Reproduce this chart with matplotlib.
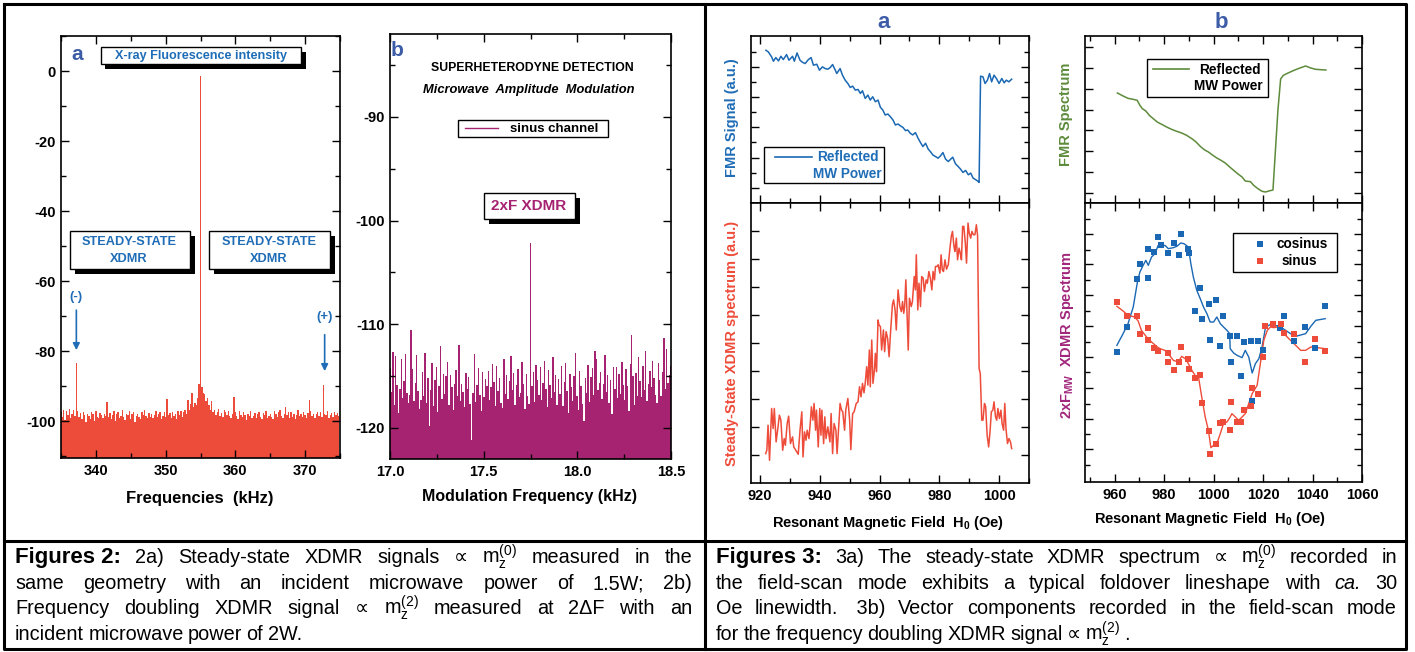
import numpy as np
import matplotlib
matplotlib.use('Agg')
import matplotlib.pyplot as plt
from matplotlib.patches import Rectangle
from matplotlib.lines import Line2D
from matplotlib.ticker import MultipleLocator, FixedLocator, FormatStrFormatter
from matplotlib import font_manager

W, H = 1415, 652

names = {f.name for f in font_manager.fontManager.ttflist}
CAP_FONT = 'Liberation Sans Narrow' if 'Liberation Sans Narrow' in names else 'Liberation Sans'

plt.rcParams['font.family'] = ['Liberation Sans', 'DejaVu Sans']
plt.rcParams['font.weight'] = 'bold'

# ---------------------------------------------------------------------------
# Fig 2a : spectrum around 355 kHz (dB), 0.2 kHz bins starting at 335 kHz
# ---------------------------------------------------------------------------
freq_a_start, freq_a_step = 335.0, 0.2
amp_a = [
    -97.5, -98.8, -96.9, -99.6, -97.2,
    -98.1, -96.6, -99.0, -97.8, -96.8,
    -98.4, -83.5, -97.0, -98.9, -97.6,
    -99.3, -97.4, -98.2, -100.1, -97.9,
    -98.6, -99.5, -97.3, -98.0, -99.8,
    -97.1, -98.7, -99.2, -97.6, -98.3,
    -99.0, -97.8, -98.5, -94.6, -98.8,
    -97.7, -99.4, -98.1, -97.2, -99.9,
    -98.0, -97.5, -99.1, -98.4, -96.9,
    -98.8, -99.6, -97.9, -98.2, -97.0,
    -99.3, -98.0, -97.4, -100.2, -98.6,
    -97.8, -98.9, -99.5, -97.3, -98.1,
    -96.8, -98.4, -99.0, -97.6, -98.9,
    -97.9, -99.2, -98.3, -97.1, -98.7,
    -98.0, -97.5, -99.4, -98.6, -97.3,
    -98.9, -93.6, -98.2, -97.7, -99.1,
    -97.4, -98.6, -97.9, -99.3, -97.2,
    -98.1, -97.0, -98.8, -97.5, -96.9,
    -97.8, -93.9, -96.8, -95.2, -92.0,
    -96.0, -94.8, -95.5, -93.4, -89.5,
    -1.5, -90.2, -91.8, -92.3, -94.1,
    -93.3, -95.4, -96.8, -94.2, -97.5,
    -96.9, -98.2, -97.4, -96.5, -98.6,
    -97.7, -98.9, -96.8, -97.4, -98.1,
    -97.2, -98.5, -99.0, -97.9, -93.2,
    -97.3, -98.6, -99.4, -97.0, -98.2,
    -98.9, -97.5, -98.1, -99.6, -97.8,
    -98.4, -97.1, -99.0, -98.6, -97.7,
    -99.2, -98.0, -97.4, -98.8, -99.5,
    -97.6, -98.3, -97.0, -99.1, -98.5,
    -97.9, -98.7, -99.3, -97.2, -98.0,
    -98.8, -97.4, -96.9, -98.4, -99.2,
    -98.0, -95.9, -98.3, -97.5, -99.0,
    -97.3, -98.7, -97.9, -99.4, -98.1,
    -96.7, -98.5, -97.8, -98.9, -97.4,
    -98.2, -99.0, -97.6, -94.0, -97.1,
    -98.5, -97.8, -99.1, -98.0, -97.3,
    -98.6, -97.5, -98.8, -89.6, -97.9,
    -98.3, -97.0, -99.2, -98.1, -97.6,
    -98.9, -97.4, -98.2, -97.7, -98.5,
]

# ---------------------------------------------------------------------------
# Fig 2b : modulation spectrum (dB), 0.0075 kHz bins starting at 17.0 kHz
# ---------------------------------------------------------------------------
freq_b_start, freq_b_step = 17.0, 0.0075
amp_b = [
    -114.2, -116.5, -112.7, -117.8, -113.1, -115.9, -118.6, -116.2, -113.4, -117.1,
    -115.5, -112.9, -116.6, -117.6, -116.8, -110.6, -114.3, -117.4, -115.7, -113.0,
    -116.4, -118.2, -117.3, -114.6, -116.9, -112.8, -117.6, -115.2, -119.8, -116.3,
    -113.7, -117.9, -115.4, -114.1, -118.5, -116.0, -112.1, -117.2, -114.8, -116.7,
    -115.0, -113.6, -117.8, -114.9, -116.1, -118.3, -115.8, -114.4, -116.9, -112.0,
    -117.4, -115.8, -116.5, -118.0, -114.7, -116.2, -115.1, -117.7, -121.2, -116.6,
    -112.9, -117.5, -115.9, -114.2, -116.8, -118.4, -114.6, -117.0, -115.3, -116.0,
    -114.5, -117.3, -116.1, -113.8, -115.6, -117.9, -114.0, -116.4, -115.2, -117.6,
    -118.1, -113.4, -116.7, -114.9, -117.2, -115.5, -113.1, -116.3, -114.7, -117.8,
    -115.9, -114.3, -117.0, -116.6, -113.6, -115.8, -118.2, -114.8, -116.9, -117.7,
    -102.2, -116.0, -114.6, -117.5, -113.9, -115.4, -116.8, -114.1, -117.3, -115.7,
    -113.5, -116.2, -118.0, -114.4, -115.9, -117.1, -113.2, -116.5, -114.9, -117.8,
    -115.3, -116.7, -114.0, -117.9, -115.6, -113.7, -116.4, -118.6, -114.8, -116.1,
    -117.4, -115.0, -112.8, -116.9, -118.3, -114.5, -116.0, -117.7, -119.3, -115.2,
    -116.6, -113.9, -117.5, -115.1, -114.2, -116.8, -112.6, -113.4, -116.3, -115.7,
    -114.6, -117.2, -115.8, -113.0, -116.5, -114.9, -117.6, -115.4, -118.7, -114.1,
    -116.2, -114.1, -117.1, -114.8, -116.7, -113.6, -115.9, -117.3, -114.3, -116.0,
    -118.4, -113.8, -111.0, -115.0, -117.8, -114.7, -116.9, -113.2, -115.5, -117.0,
    -114.0, -116.3, -112.6, -117.4, -115.8, -114.5, -116.1, -113.5, -115.2, -116.8,
    -117.6, -113.7, -115.4, -116.9, -114.6, -111.3, -116.2, -112.4, -115.7, -114.9,
    -114.0,
]

# ---------------------------------------------------------------------------
# Fig 3a : FMR signal (reflected MW power) and steady-state XDMR, field scan
# ---------------------------------------------------------------------------
fmr_a_field = [
    922.0, 922.8, 923.9, 924.5, 925.3, 926.2, 927.0, 927.8, 928.9, 929.7,
    930.9, 931.5, 932.4, 933.4, 934.2, 935.1, 936.2, 937.1, 937.9, 939.0,
    939.9, 940.9, 941.8, 942.7, 943.5, 944.3, 945.2, 945.7, 946.8, 947.6,
    948.5, 949.4, 950.2, 951.0, 951.9, 952.8, 953.6, 954.3, 955.2, 956.1,
    956.9, 957.7, 958.6, 959.5, 960.3, 961.1, 961.9, 962.8, 963.6, 964.5,
    965.3, 966.2, 967.0, 967.8, 968.7, 969.4, 970.3, 971.1, 972.0, 972.9,
    973.7, 974.5, 975.4, 976.3, 977.0, 977.8, 978.7, 979.6, 980.4, 981.2,
    982.1, 983.0, 983.8, 984.5, 985.4, 986.3, 987.1, 987.9, 988.8, 989.7,
    990.5, 991.3, 992.2, 993.0, 993.3, 993.8, 994.6, 995.3, 996.1, 996.8,
    997.5, 998.3, 999.1, 1000.0, 1000.9, 1001.7, 1002.4, 1003.3, 1004.2,
]
fmr_a_signal = [
    4.60, 4.55, 4.40, 4.27, 4.38, 4.28, 4.42, 4.32, 4.47, 4.30,
    4.42, 4.27, 4.52, 4.30, 4.24, 4.20, 4.32, 4.38, 4.15, 4.18,
    4.00, 4.10, 4.05, 4.03, 4.08, 4.17, 4.00, 3.90, 4.05, 3.85,
    3.70, 3.60, 3.48, 3.52, 3.40, 3.42, 3.30, 3.38, 3.15, 3.25,
    3.10, 3.20, 3.05, 3.10, 2.88, 2.80, 2.65, 2.68, 2.60, 2.50,
    2.35, 2.38, 2.32, 2.28, 2.18, 2.20, 2.10, 2.05, 2.12, 1.95,
    1.82, 1.70, 1.80, 1.62, 1.55, 1.45, 1.40, 1.35, 1.42, 1.52,
    1.32, 1.25, 1.32, 1.38, 1.18, 1.10, 1.02, 0.92, 0.98, 0.85,
    0.90, 0.75, 0.70, 0.65, 0.62, 3.82, 3.80, 3.60, 3.70, 3.90,
    3.65, 3.85, 3.75, 3.60, 3.75, 3.62, 3.70, 3.65, 3.73,
]

xdmr_field = [
    921.9, 922.3, 922.7, 923.2, 923.9, 924.4, 924.8, 925.4, 925.9, 926.5,
    927.0, 927.6, 928.1, 928.5, 929.1, 929.6, 930.2, 930.9, 931.3, 932.0,
    932.8, 933.4, 934.0, 934.4, 934.9, 935.4, 935.8, 936.4, 936.9, 937.2,
    937.7, 938.1, 938.6, 938.9, 939.5, 940.0, 940.4, 940.7, 941.3, 941.7,
    942.1, 942.7, 943.4, 943.8, 944.3, 944.8, 945.4, 945.8, 946.4, 946.8,
    947.3, 947.7, 948.3, 948.7, 949.4, 950.0, 950.4, 951.0, 951.5, 952.2,
    952.8, 953.3, 953.8, 954.3, 954.8, 955.2, 955.7, 956.1, 956.6, 956.9,
    957.4, 957.8, 958.3, 958.6, 959.0, 959.5, 959.8, 960.3, 960.7, 961.3,
    961.7, 962.2, 962.7, 963.2, 963.7, 964.3, 964.7, 965.2, 965.6, 966.2,
    966.8, 967.3, 967.7, 968.1, 968.4, 968.8, 969.2, 969.6, 970.0, 970.6,
    971.0, 971.6, 972.0, 972.3, 972.8, 973.2, 973.7, 974.1, 974.6, 975.0,
    975.6, 976.0, 976.5, 977.0, 977.5, 977.9, 978.4, 978.7, 979.2, 979.6,
    980.2, 980.6, 981.0, 981.4, 981.9, 982.4, 983.0, 983.5, 984.0, 984.4,
    984.9, 985.2, 985.7, 986.1, 986.6, 987.0, 987.4, 987.8, 988.2, 988.7,
    989.1, 989.6, 990.0, 990.5, 990.9, 991.4, 991.9, 992.4, 992.8, 993.3,
    993.7, 994.2, 994.6, 995.1, 995.5, 996.0, 996.5, 997.0, 997.4, 997.9,
    998.3, 998.8, 999.2, 999.6, 1000.1, 1000.6, 1001.0, 1001.5, 1001.9, 1002.3,
    1002.8, 1003.3, 1003.8, 1004.2,
]
xdmr_signal = [
    0.88, 0.98, 1.73, 0.68, 2.23, 1.63, 2.23, 1.23, 1.58, 2.03,
    1.88, 0.98, 1.33, 1.13, 1.78, 2.00, 1.18, 1.38, 1.08, 0.98,
    0.86, 1.58, 2.13, 0.78, 1.53, 1.28, 1.58, 1.33, 1.88, 2.28,
    1.88, 2.38, 1.58, 2.18, 1.08, 2.23, 1.43, 2.18, 1.18, 1.98,
    1.33, 1.68, 1.23, 2.08, 0.88, 1.78, 1.58, 0.88, 1.78, 2.38,
    2.18, 2.13, 1.58, 2.18, 2.53, 1.88, 1.00, 2.08, 2.13, 2.38,
    2.43, 2.88, 2.58, 2.98, 2.70, 2.98, 3.48, 2.93, 3.98, 2.88,
    4.28, 2.98, 3.38, 3.88, 3.33, 4.88, 4.73, 4.68, 3.98, 4.58,
    3.93, 4.53, 4.33, 3.78, 4.53, 5.33, 5.48, 5.18, 4.58, 5.78,
    5.28, 5.13, 5.43, 5.08, 5.28, 6.08, 5.08, 3.98, 5.53, 5.28,
    5.43, 6.18, 5.78, 6.83, 5.18, 5.98, 5.28, 6.18, 6.13, 5.73,
    6.08, 5.98, 6.33, 6.13, 5.78, 6.33, 6.08, 6.48, 6.48, 6.53,
    6.28, 6.83, 6.38, 6.33, 6.68, 6.40, 6.53, 6.98, 7.38, 7.53,
    7.08, 6.93, 7.33, 6.68, 7.03, 6.88, 6.68, 7.68, 7.68, 7.18,
    6.58, 7.78, 7.48, 7.33, 7.53, 7.43, 7.43, 7.73, 7.40, 3.43,
    3.28, 1.88, 1.88, 2.38, 2.28, 1.43, 1.08, 1.58, 2.13, 2.18,
    2.43, 1.98, 1.88, 2.23, 1.93, 2.18, 1.78, 1.58, 2.38, 1.63,
    1.18, 1.33, 1.23, 1.03,
]

# ---------------------------------------------------------------------------
# Fig 3b : FMR spectrum and 2xF_MW XDMR vector components
# ---------------------------------------------------------------------------
fmr_b_field = [
    961.1, 963.4, 965.4, 967.5, 969.1, 970.2, 971.2, 972.6, 974.0, 975.6,
    977.2, 979.0, 981.0, 983.0, 985.1, 987.1, 989.1, 991.2, 992.9, 994.6,
    996.2, 997.9, 999.7, 1001.3, 1003.0, 1004.7, 1006.5, 1008.1, 1009.7, 1011.5,
    1012.8, 1014.9, 1016.2, 1017.9, 1019.6, 1021.0, 1022.3, 1024.0, 1025.0, 1026.0,
    1027.1, 1028.2, 1030.1, 1032.5, 1034.9, 1037.2, 1039.3, 1041.3, 1043.3, 1045.4,
]
fmr_b_signal = [
    3.30, 3.21, 3.14, 3.11, 3.08, 2.93, 2.83, 2.76, 2.63, 2.53,
    2.43, 2.36, 2.28, 2.21, 2.15, 2.10, 2.03, 1.93, 1.83, 1.70,
    1.60, 1.53, 1.43, 1.35, 1.28, 1.20, 1.08, 0.98, 0.88, 0.78,
    0.66, 0.64, 0.53, 0.43, 0.35, 0.33, 0.36, 0.39, 1.58, 2.78,
    3.72, 3.83, 3.90, 3.98, 4.05, 4.11, 4.05, 4.01, 4.00, 3.99,
]

cos_pts_field = [
    960.9, 965.1, 969.2, 970.3, 973.3, 973.4, 976.1, 977.5, 978.8, 981.4,
    984.1, 985.9, 987.0, 989.8, 989.9, 994.3, 992.5, 995.4, 998.3, 1001.1,
    1003.9, 998.5, 1002.7, 1006.9, 1006.6, 1009.6, 1011.2, 1012.2, 1015.1, 1015.4,
    1018.0, 1019.8, 1026.8, 1028.3, 1032.5, 1036.8, 1040.9, 1045.1,
]
cos_pts_value = [
    3.90, 4.65, 6.10, 6.53, 7.00, 6.13, 6.89, 7.35, 7.11, 6.87,
    7.17, 6.80, 7.43, 7.00, 6.88, 5.82, 5.13, 4.90, 5.35, 5.45,
    4.99, 4.26, 4.07, 3.59, 4.37, 4.38, 3.19, 4.21, 4.24, 2.43,
    4.24, 3.97, 4.63, 4.99, 4.23, 4.64, 4.01, 5.27,
]
sin_pts_field = [
    960.9, 965.1, 969.2, 970.3, 973.3, 973.4, 976.1, 977.5, 981.4, 981.7,
    984.1, 985.9, 987.0, 989.8, 989.9, 992.5, 994.3, 995.4, 998.2, 998.5,
    1001.1, 1003.9, 1002.7, 1006.6, 1006.9, 1009.6, 1011.2, 1012.2, 1015.1, 1015.4,
    1018.0, 1019.8, 1020.8, 1024.0, 1027.1, 1028.3, 1032.5, 1036.8, 1040.9, 1045.1,
]
sin_pts_value = [
    5.40, 4.97, 4.99, 4.45, 4.62, 4.27, 4.02, 3.93, 3.87, 3.59,
    3.35, 3.59, 4.06, 3.68, 3.38, 3.12, 3.20, 2.38, 1.53, 0.83,
    1.13, 1.79, 1.78, 1.56, 2.40, 1.79, 1.79, 2.17, 2.27, 2.82,
    2.65, 3.75, 4.67, 4.75, 4.75, 4.48, 4.45, 3.60, 4.29, 3.93,
]
cos_line_field = [
    960.9, 963.4, 965.4, 967.5, 969.2, 970.2, 971.5, 972.6, 973.6, 974.9,
    976.3, 977.6, 979.0, 980.3, 981.7, 983.7, 985.1, 986.7, 988.0, 989.8,
    990.8, 991.8, 993.2, 994.6, 995.9, 997.3, 998.6, 1000.0, 1001.3, 1002.7,
    1004.0, 1005.4, 1006.5, 1006.7, 1008.1, 1009.5, 1011.5, 1012.8, 1014.2, 1015.6,
    1016.9, 1018.3, 1019.6, 1021.0, 1022.3, 1023.7, 1025.0, 1027.1, 1029.1, 1031.1,
    1033.2, 1035.2, 1037.2, 1039.3, 1041.3, 1045.1,
]
cos_line_value = [
    4.10, 4.45, 4.75, 5.25, 6.00, 6.30, 6.50, 6.65, 6.50, 6.75,
    6.85, 7.10, 7.07, 7.10, 7.00, 7.03, 7.07, 7.17, 7.15, 7.05,
    6.55, 6.15, 5.75, 5.50, 5.25, 5.05, 4.80, 4.80, 4.95, 4.75,
    4.65, 4.55, 4.45, 4.00, 3.87, 3.80, 3.73, 3.95, 3.75, 3.27,
    3.55, 3.70, 4.05, 4.65, 4.70, 4.75, 4.70, 4.65, 4.55, 4.45,
    4.37, 4.41, 4.45, 4.67, 4.85, 4.90,
]
sin_line_field = [
    960.9, 963.4, 965.4, 968.1, 969.5, 970.8, 972.9, 974.9, 976.9, 978.3,
    980.3, 981.7, 983.7, 985.7, 987.1, 988.5, 989.8, 991.2, 992.5, 993.9,
    995.2, 996.6, 997.9, 998.9, 1000.0, 1001.3, 1002.7, 1004.0, 1005.4, 1006.7,
    1007.4, 1008.8, 1010.1, 1011.5, 1012.8, 1014.2, 1015.6, 1017.6, 1018.9, 1020.3,
    1021.7, 1023.0, 1024.4, 1025.7, 1027.1, 1028.4, 1031.1, 1033.2, 1035.2, 1037.2,
    1039.3, 1042.0, 1045.1,
]
sin_line_value = [
    5.27, 5.13, 5.00, 4.95, 4.83, 4.55, 4.35, 4.20, 4.07, 4.00,
    3.95, 3.85, 3.65, 3.60, 3.77, 3.70, 3.55, 3.35, 3.20, 3.15,
    2.55, 1.95, 1.55, 1.03, 1.10, 1.15, 1.45, 1.75, 1.80, 1.95,
    2.05, 1.95, 1.85, 1.95, 2.05, 2.35, 2.65, 2.90, 3.55, 4.25,
    4.55, 4.65, 4.63, 4.65, 4.60, 4.45, 4.25, 4.10, 3.95, 3.95,
    4.05, 4.03, 4.00,
]

# captions
cap2_lines = [
    ["Figures 2:", "2a)", "Steady-state", "XDMR", "signals", "\u221d", r"m$_\mathregular{z}^\mathregular{(0)}$",
     "measured", "in", "the"],
    ["same", "geometry", "with", "an", "incident", "microwave", "power", "of", "1.5W;", "2b)"],
    ["Frequency", "doubling", "XDMR", "signal", "\u221d", r"m$_\mathregular{z}^\mathregular{(2)}$", "measured",
     "at", "2\u0394F", "with", "an"],
    ["incident", "microwave", "power", "of", "2W."],
]
cap3_lines = [
    ["Figures 3:", "3a)", "The", "steady-state", "XDMR", "spectrum", "\u221d", r"m$_\mathregular{z}^\mathregular{(0)}$",
     "recorded", "in"],
    ["the", "field-scan", "mode", "exhibits", "a", "typical", "foldover", "lineshape", "with", "*ca.", "30"],
    ["Oe", "linewidth.", " 3b)", "Vector", "components", "recorded", "in", "the", "field-scan", "mode"],
    ["for", "the", "frequency", "doubling", "XDMR", "signal", "\u221d", r"m$_\mathregular{z}^\mathregular{(2)}$", "."],
]

# colours
LETTER_BLUE = '#3d5ca8'
BOX_BLUE = '#1f6db6'
RED = '#ee4c3a'
MAGENTA = '#a62372'
LINE_BLUE = '#1a68b3'
GREEN = '#5d8b3b'
LABEL_MAG = '#a1267b'


def px(x, y):
    return x / W, 1 - y / H


def add_rect(fig, x0, y0, x1, y1, **kw):
    fig.add_artist(Rectangle(px(x0, y1), (x1 - x0) / W, (y1 - y0) / H,
                             transform=fig.transFigure, **kw))


def shadow_box(fig, x0, y0, x1, y1, off=4.5):
    add_rect(fig, x0 + off, y0 + off, x1 + off, y1 + off, facecolor='black',
             edgecolor='none', zorder=4)
    add_rect(fig, x0, y0, x1, y1, facecolor='white', edgecolor='black', lw=1.0, zorder=5)


def plain_box(fig, x0, y0, x1, y1):
    add_rect(fig, x0, y0, x1, y1, facecolor='white', edgecolor='black', lw=1.0, zorder=5)


def ftext(fig, x, y, s, **kw):
    kw.setdefault('ha', 'center')
    kw.setdefault('va', 'center')
    kw.setdefault('zorder', 6)
    return fig.text(*px(x, y), s, **kw)


def fline(fig, xs, ys, **kw):
    fig.add_artist(Line2D([x / W for x in xs], [1 - y / H for y in ys],
                          transform=fig.transFigure, **kw))


def make_ax(fig, x0, y0, x1, y1):
    return fig.add_axes([x0 / W, 1 - y1 / H, (x1 - x0) / W, (y1 - y0) / H])


def style_ax(ax, size=10.5):
    ax.tick_params(which='both', direction='in', top=True, right=True, width=1.0,
                   labelsize=size, pad=4)
    ax.tick_params(which='major', length=6)
    ax.tick_params(which='minor', length=3.5)
    for s in ax.spines.values():
        s.set_linewidth(1.2)


fig = plt.figure(figsize=(W / 100, H / 100), dpi=100)

# ---------------- Fig 2a ----------------
ax = make_ax(fig, 61, 36, 340, 458)
freq_a = freq_a_start + freq_a_step * np.arange(len(amp_a))
amp_a_arr = np.array(amp_a)
base_a = -110.5
ax.bar(freq_a, amp_a_arr - base_a, bottom=base_a, width=freq_a_step, color=RED, linewidth=0)
ax.set_xlim(335, 375)
ax.set_ylim(base_a, 10)
ax.xaxis.set_major_locator(MultipleLocator(10))
ax.xaxis.set_minor_locator(MultipleLocator(5))
ax.yaxis.set_major_locator(FixedLocator([-100, -80, -60, -40, -20, 0]))
ax.yaxis.set_minor_locator(MultipleLocator(10))
ax.yaxis.set_major_formatter(FormatStrFormatter('%d'))
style_ax(ax)
ax.annotate('', xy=(337.2, -80.5), xytext=(337.2, -67.5),
            arrowprops=dict(arrowstyle='-|>', color=BOX_BLUE, lw=1.2, mutation_scale=10))
ax.annotate('', xy=(372.8, -86.5), xytext=(372.8, -74.5),
            arrowprops=dict(arrowstyle='-|>', color=BOX_BLUE, lw=1.2, mutation_scale=10))
ax.text(337.2, -64.5, '(-)', color=BOX_BLUE, ha='center', va='center', fontsize=9.5)
ax.text(372.8, -70.3, '(+)', color=BOX_BLUE, ha='center', va='center', fontsize=9.5)
ftext(fig, 200, 499, 'Frequencies  (kHz)', fontsize=12)
ftext(fig, 77, 55, 'a', color=LETTER_BLUE, fontsize=15)
shadow_box(fig, 101, 47, 301, 64)
ftext(fig, 201, 55.5, 'X-ray Fluorescence intensity', color=BOX_BLUE, fontsize=9.1)
shadow_box(fig, 70, 231, 190, 269)
ftext(fig, 129, 242, 'STEADY-STATE', color=BOX_BLUE, fontsize=9.2)
ftext(fig, 129, 259, 'XDMR', color=BOX_BLUE, fontsize=9.2)
shadow_box(fig, 209, 231, 330, 269)
ftext(fig, 269, 242, 'STEADY-STATE', color=BOX_BLUE, fontsize=9.2)
ftext(fig, 269, 259, 'XDMR', color=BOX_BLUE, fontsize=9.2)

# ---------------- Fig 2b ----------------
ax = make_ax(fig, 390, 34, 671, 459)
freq_b = freq_b_start + freq_b_step * np.arange(len(amp_b))
amp_b_arr = np.array(amp_b)
base_b = -123
ax.bar(freq_b, amp_b_arr - base_b, bottom=base_b, width=freq_b_step, color=MAGENTA, linewidth=0)
ax.set_xlim(17.0, 18.5)
ax.set_ylim(base_b, -82)
ax.xaxis.set_major_locator(MultipleLocator(0.5))
ax.xaxis.set_minor_locator(MultipleLocator(0.25))
ax.yaxis.set_major_locator(MultipleLocator(10))
ax.yaxis.set_minor_locator(MultipleLocator(5))
style_ax(ax)
ax.xaxis.set_major_formatter(FormatStrFormatter('%.1f'))
ax.yaxis.set_major_formatter(FormatStrFormatter('%d'))
ftext(fig, 530, 496, 'Modulation Frequency (kHz)', fontsize=11.5)
ftext(fig, 397, 50, 'b', color=LETTER_BLUE, fontsize=15)
ftext(fig, 532, 68, 'SUPERHETERODYNE DETECTION', fontsize=8.8)
ftext(fig, 529, 90, 'Microwave  Amplitude  Modulation', fontsize=9.3, style='italic')
plain_box(fig, 458, 120, 608, 137)
fline(fig, [465, 498], [128, 128], color=MAGENTA, lw=1.0, zorder=6)
ftext(fig, 554, 128.5, 'sinus channel', fontsize=9.5)
shadow_box(fig, 484, 193, 575, 219)
ftext(fig, 529, 206.5, '2xF XDMR', color=MAGENTA, fontsize=11)

# ---------------- Fig 3a ----------------
ax = make_ax(fig, 751, 36, 1029, 203)
ax.plot(fmr_a_field, fmr_a_signal, color=LINE_BLUE, lw=1.1)
ax.set_xlim(917, 1010)
ax.set_ylim(0, 5.03)
ax.xaxis.set_major_locator(MultipleLocator(20))
ax.xaxis.set_minor_locator(MultipleLocator(10))
ax.yaxis.set_major_locator(FixedLocator([0.45, 1.37, 2.28, 3.2, 4.1]))
ax.yaxis.set_minor_locator(FixedLocator([0.9, 1.83, 2.75, 3.65, 4.56]))
style_ax(ax)
ax.tick_params(which='both', labelbottom=False, labelleft=False)
plain_box(fig, 764, 147, 884, 183)
fline(fig, [775, 812], [157, 157], color=LINE_BLUE, lw=1.2, zorder=6)
ftext(fig, 848, 157, 'Reflected', color=BOX_BLUE, fontsize=9.8)
ftext(fig, 847, 174, 'MW Power', color=BOX_BLUE, fontsize=9.8)
ftext(fig, 732, 118, 'FMR Signal (a.u.)', color=BOX_BLUE, fontsize=10.5, rotation=90)
ftext(fig, 884, 22, 'a', color=LETTER_BLUE, fontsize=16)

ax = make_ax(fig, 751, 203, 1029, 483)
ax.plot(xdmr_field, xdmr_signal, color=RED, lw=1.1)
ax.set_xlim(917, 1010)
ax.set_ylim(0, 8.38)
ax.xaxis.set_major_locator(MultipleLocator(20))
ax.xaxis.set_minor_locator(MultipleLocator(10))
ax.yaxis.set_major_locator(FixedLocator([0.83, 1.68, 2.51, 3.35, 4.18, 5.02, 5.86, 6.70, 7.53]))
style_ax(ax)
ax.tick_params(which='both', labelleft=False)
ftext(fig, 732, 343, 'Steady-State XDMR spectrum (a.u.)', color=RED, fontsize=10.5, rotation=90)
ftext(fig, 888, 523, r'Resonant Magnetic Field  H$_\mathregular{0}$ (Oe)', fontsize=10.5)

# ---------------- Fig 3b ----------------
ax = make_ax(fig, 1085, 36, 1362, 203)
ax.plot(fmr_b_field, fmr_b_signal, color=GREEN, lw=1.1)
ax.set_xlim(948, 1060)
ax.set_ylim(0, 5.01)
ax.xaxis.set_major_locator(MultipleLocator(20))
ax.xaxis.set_minor_locator(MultipleLocator(10))
ax.yaxis.set_major_locator(FixedLocator([0.30, 0.925, 1.55, 2.175, 2.80, 3.425, 4.05, 4.675]))
style_ax(ax)
ax.tick_params(which='both', labelbottom=False, labelleft=False)
plain_box(fig, 1147, 59, 1268, 97)
fline(fig, [1153, 1189], [69, 69], color=GREEN, lw=1.2, zorder=6)
ftext(fig, 1230, 69.5, 'Reflected', fontsize=9.8)
ftext(fig, 1228, 86.5, 'MW Power', fontsize=9.8)
ftext(fig, 1066, 114, 'FMR Spectrum', color=GREEN, fontsize=10.5, rotation=90)
ftext(fig, 1221, 22, 'b', color=LETTER_BLUE, fontsize=16)

ax = make_ax(fig, 1085, 203, 1362, 482)
ax.plot(cos_line_field, cos_line_value, color=LINE_BLUE, lw=1.0)
ax.plot(sin_line_field, sin_line_value, color=RED, lw=1.0)
ax.plot(cos_pts_field, cos_pts_value, 's', color=LINE_BLUE, ms=4.6, mew=0)
ax.plot(sin_pts_field, sin_pts_value, 's', color=RED, ms=4.6, mew=0)
ax.set_xlim(948, 1060)
ax.set_ylim(0, 8.37)
ax.xaxis.set_major_locator(MultipleLocator(20))
ax.xaxis.set_minor_locator(MultipleLocator(10))
ax.yaxis.set_major_locator(FixedLocator([0.98, 1.90, 2.83, 3.75, 4.67, 5.60, 6.53, 7.45]))
ax.yaxis.set_minor_locator(FixedLocator([0.50, 1.45, 2.35, 3.30, 4.20, 5.13, 6.05, 6.97, 7.90]))
style_ax(ax)
ax.tick_params(which='both', labelleft=False)
plain_box(fig, 1233, 233, 1337, 272)
fig.add_artist(Line2D([1260 / W], [1 - 244 / H], marker='s', color=LINE_BLUE, ms=4.6, mew=0,
                      transform=fig.transFigure, zorder=6))
fig.add_artist(Line2D([1260 / W], [1 - 261 / H], marker='s', color=RED, ms=4.6, mew=0,
                      transform=fig.transFigure, zorder=6))
ftext(fig, 1302, 244, 'cosinus', fontsize=9.8)
ftext(fig, 1299, 261, 'sinus', fontsize=9.8)
ftext(fig, 1067, 335, r'2xF$_\mathregular{MW}$  XDMR Spectrum', color=LABEL_MAG, fontsize=10.5,
      rotation=90)
ftext(fig, 1210, 519, r'Resonant Magnetic Field  H$_\mathregular{0}$ (Oe)', fontsize=10.5)

# ---------------- frames ----------------
FR = dict(color='black', lw=2.2, zorder=7, solid_capstyle='projecting')
fline(fig, [4, 1406, 1406, 4, 4], [4, 4, 649, 649, 4], **FR)
fline(fig, [705, 705], [4, 649], **FR)
fline(fig, [4, 1406], [541, 541], **FR)

# ---------------- captions (justified) ----------------
renderer = fig.canvas.get_renderer()
CAP_SIZE = 14.3


def caption(lines, x0, x1, baselines):
    for i, (words, yb) in enumerate(zip(lines, baselines)):
        texts = []
        for j, w in enumerate(words):
            kw = dict(fontsize=CAP_SIZE, fontweight='normal', family=[CAP_FONT, 'DejaVu Sans'])
            if i == 0 and j == 0:
                kw.update(fontsize=16, fontweight='bold', family=['Liberation Sans', 'DejaVu Sans'])
            if w.startswith('*'):
                w = w[1:]
                kw['style'] = 'italic'
            texts.append(fig.text(x0 / W, 1 - yb / H, w, ha='left', va='baseline', zorder=8, **kw))
        widths = [t.get_window_extent(renderer).width for t in texts]
        last = i == len(lines) - 1
        gap = CAP_SIZE * 0.3 if last else (x1 - x0 - sum(widths)) / (len(texts) - 1)
        x = x0
        for t, w in zip(texts, widths):
            t.set_x(x / W)
            x += w + gap


caption(cap2_lines, 15, 692, [563, 589, 614, 640])
caption(cap3_lines, 716, 1397, [563, 589, 614, 640])

fig.savefig('out.png', dpi=100)
